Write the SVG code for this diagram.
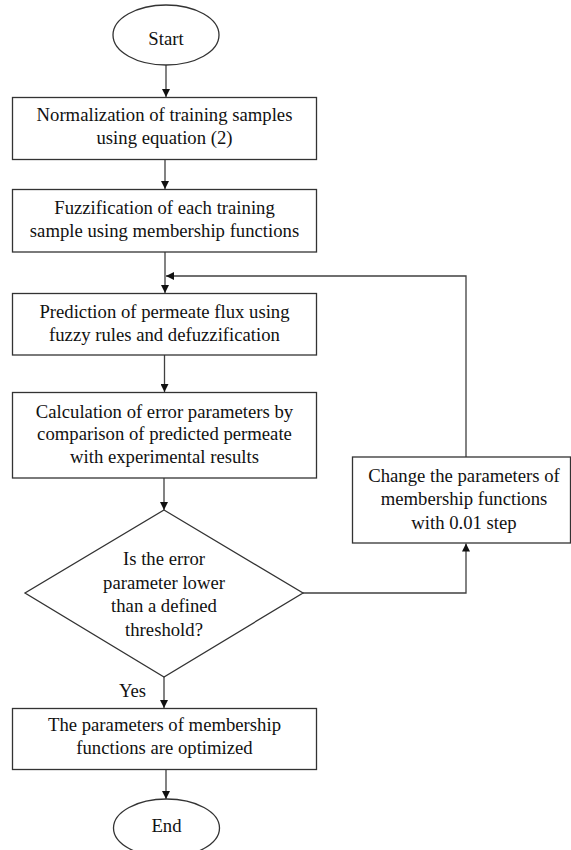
<svg xmlns="http://www.w3.org/2000/svg" width="571" height="850" viewBox="0 0 571 850" font-family="'Liberation Serif', serif" font-size="18.7" text-anchor="middle" fill="#111">
<style>
.s{fill:#fff;stroke:#333;stroke-width:1.3}
.c{fill:none;stroke:#404040;stroke-width:1.3}
</style>
<defs>
<marker id="ah" viewBox="0 0 10 10" refX="10" refY="5" markerWidth="9" markerHeight="8" markerUnits="userSpaceOnUse" orient="auto">
<path d="M0,0 L10,5 L0,10 z" fill="#111"/>
</marker>
</defs>
<rect width="571" height="850" fill="#fff"/>
<g id="connectors">
<line class="c" x1="166" y1="65" x2="166" y2="97" marker-end="url(#ah)"/>
<line class="c" x1="165" y1="159.5" x2="165" y2="189" marker-end="url(#ah)"/>
<line class="c" x1="165" y1="252" x2="165" y2="293" marker-end="url(#ah)"/>
<line class="c" x1="164.5" y1="355" x2="164.5" y2="392" marker-end="url(#ah)"/>
<line class="c" x1="164" y1="478" x2="164" y2="510" marker-end="url(#ah)"/>
<polyline class="c" points="303,593 466,593 466,543.5" marker-end="url(#ah)"/>
<polyline class="c" points="466,457 466,276 166,276" marker-end="url(#ah)"/>
<line class="c" x1="164" y1="677" x2="164" y2="708" marker-end="url(#ah)"/>
<line class="c" x1="166" y1="769.5" x2="166" y2="799" marker-end="url(#ah)"/>
<text x="132.5" y="697">Yes</text>
</g>
<g id="start">
<ellipse class="s" cx="166" cy="35" rx="53" ry="30"/>
<text x="166" y="45">Start</text>
</g>
<g id="normalize">
<rect class="s" x="12.5" y="97.5" width="304" height="62"/>
<text x="164.5" y="121">Normalization of training samples</text>
<text x="164.5" y="143.5">using equation (2)</text>
</g>
<g id="fuzzify">
<rect class="s" x="12.5" y="189.5" width="304" height="62.5"/>
<text x="164.5" y="213.5">Fuzzification of each training</text>
<text x="164.5" y="236.5">sample using membership functions</text>
</g>
<g id="predict">
<rect class="s" x="12.5" y="293.5" width="304" height="61.5"/>
<text x="164.5" y="318">Prediction of permeate flux using</text>
<text x="164.5" y="341">fuzzy rules and defuzzification</text>
</g>
<g id="calc">
<rect class="s" x="12.5" y="392.5" width="304" height="85.5"/>
<text x="164.5" y="417.5">Calculation of error parameters by</text>
<text x="164.5" y="440">comparison of predicted permeate</text>
<text x="164.5" y="462.5">with experimental results</text>
</g>
<g id="decision">
<polygon class="s" points="164,510 303,593 164,677 25,593"/>
<text x="164" y="565">Is the error</text>
<text x="164" y="588.5">parameter lower</text>
<text x="164" y="612">than a defined</text>
<text x="164" y="635.5">threshold?</text>
</g>
<g id="change">
<rect class="s" x="352.5" y="457" width="218" height="86"/>
<text x="464" y="481.5">Change the parameters of</text>
<text x="464" y="505">membership functions</text>
<text x="464" y="528.5">with 0.01 step</text>
</g>
<g id="optimized">
<rect class="s" x="12.5" y="708.5" width="304" height="61"/>
<text x="164.5" y="731">The parameters of membership</text>
<text x="164.5" y="753.5">functions are optimized</text>
</g>
<g id="end">
<ellipse class="s" cx="166.5" cy="828" rx="53" ry="29"/>
<text x="166.5" y="832">End</text>
</g>
</svg>
